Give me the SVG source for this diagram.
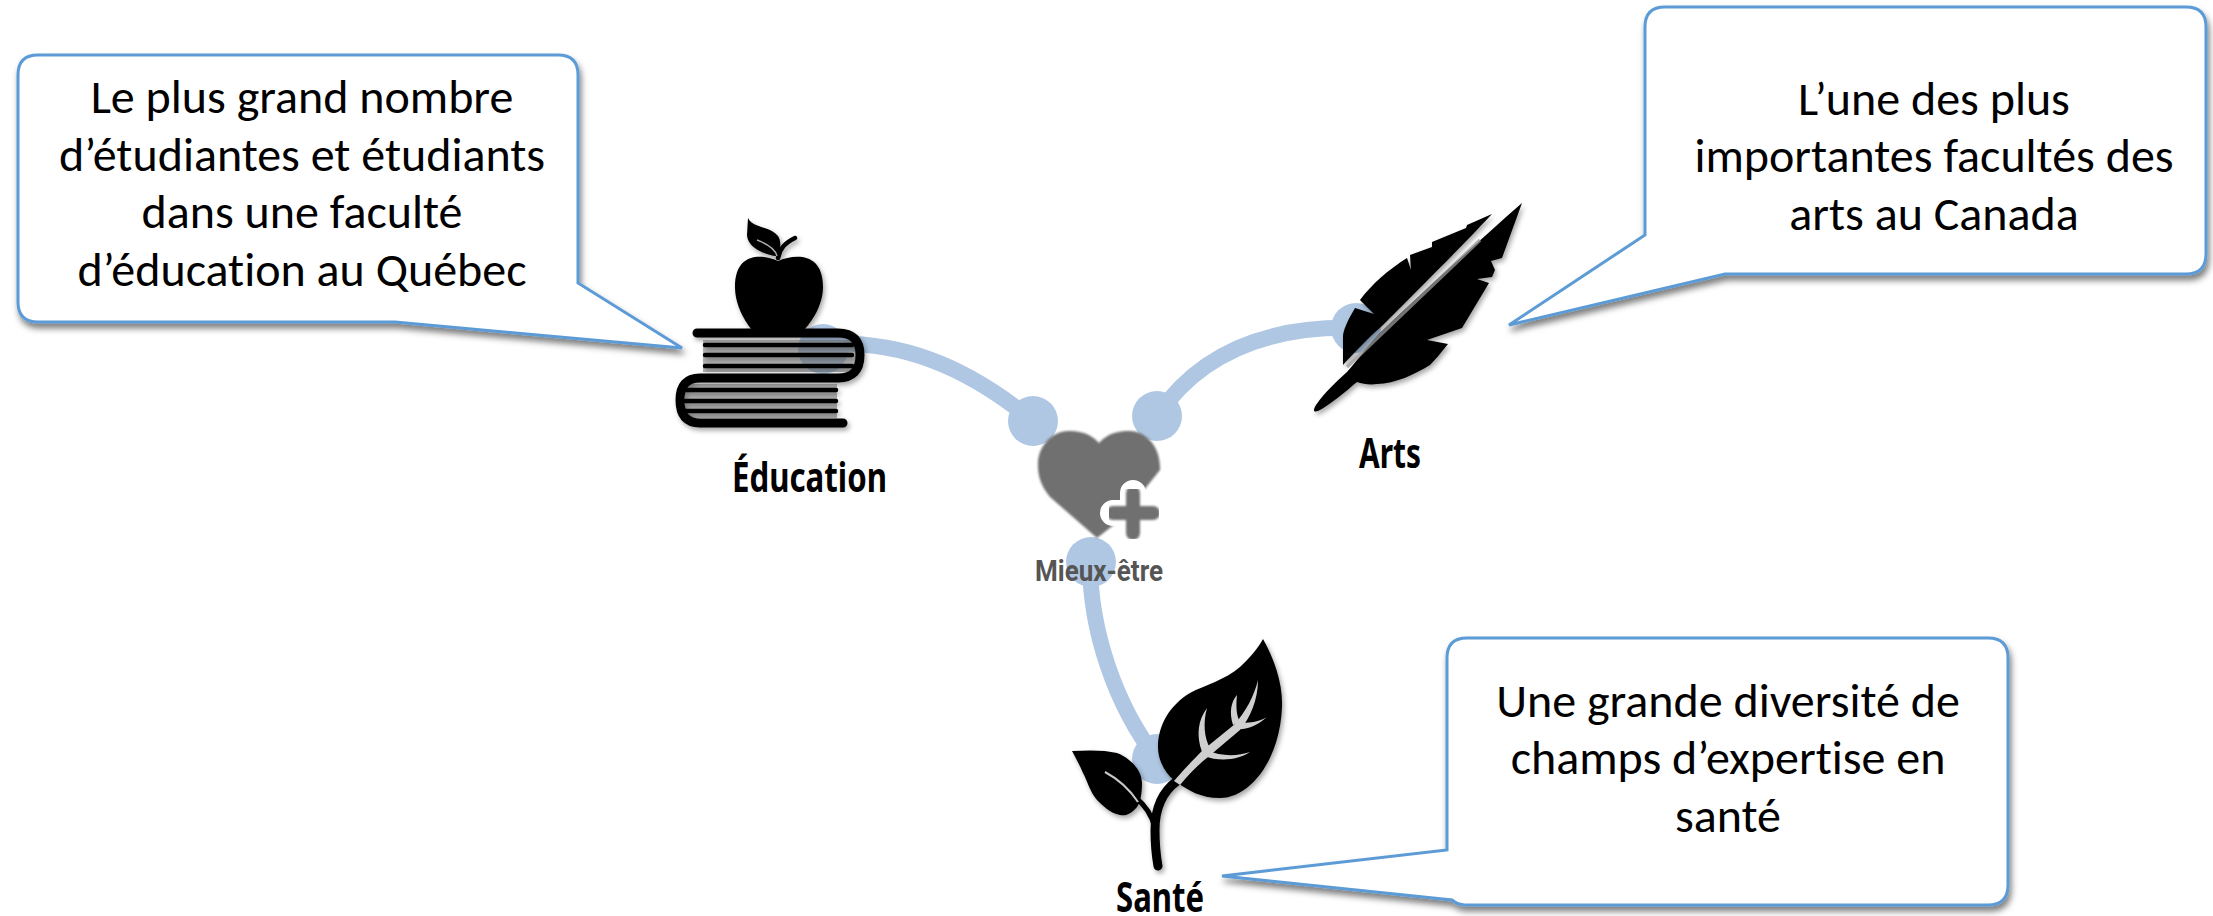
<svg xmlns="http://www.w3.org/2000/svg" width="2213" height="916" viewBox="0 0 2213 916">
<defs>
<filter id="sh" x="-10%" y="-10%" width="125%" height="125%"><feDropShadow dx="2" dy="5" stdDeviation="3" flood-color="#000" flood-opacity=".5"/></filter>
<filter id="ic" x="-10%" y="-10%" width="125%" height="125%"><feDropShadow dx="2" dy="3" stdDeviation="2.5" flood-color="#000" flood-opacity=".35"/></filter>
<filter id="soft" x="-10%" y="-10%" width="125%" height="125%"><feGaussianBlur stdDeviation="1"/></filter>
<filter id="vein" x="-10%" y="-10%" width="125%" height="125%"><feGaussianBlur stdDeviation=".6"/></filter>
</defs>
<style>
text{text-anchor:middle;font-variant-ligatures:none}
.c{fill:#fff;stroke:#5b9bd5;stroke-width:3;filter:url(#sh)}
.t{font-family:Carlito,Lato,"Noto Sans","Liberation Sans",sans-serif;font-size:48px;fill:#000}
.l{font-family:"Noto Sans","Liberation Sans",sans-serif;font-weight:700;font-size:42px;fill:#000}
.w{fill:none;stroke:#afc7e3;stroke-width:16}
.n{fill:#afc7e3}
.bk{fill:none;stroke:#000;stroke-width:9;stroke-linecap:round;stroke-linejoin:round}
.st{fill:none;stroke:#000;stroke-width:4.5;stroke-linecap:round}
.pg{fill:#777;fill-opacity:.55}
.v{fill:#cfcfcf;filter:url(#vein)}
</style>
<g id="connectors">
<path class="w" d="M823 344C900 340 965 365 1033 421"/>
<path class="w" d="M1356 328C1280 326 1205 345 1157 416"/>
<path class="w" d="M1090 562C1090 630 1115 705 1157 759"/>
<circle class="n" cx="823" cy="349" r="25"/>
<circle class="n" cx="1033" cy="421" r="25"/>
<circle class="n" cx="1356" cy="328" r="25"/>
<circle class="n" cx="1157" cy="416" r="25"/>
<circle class="n" cx="1091" cy="562" r="25"/>
<circle class="n" cx="1157" cy="759" r="25"/>
</g>
<g id="callout-education"><path class="c" d="M38 55H558Q578 55 578 75V283L682 348L395 322H38Q18 322 18 302V75Q18 55 38 55Z"/>
<text class="t" x="302" y="113">Le plus grand nombre</text><text class="t" x="302" y="171">d’étudiantes et étudiants</text><text class="t" x="302" y="228">dans une faculté</text><text class="t" x="302" y="286">d’éducation au Québec</text></g>
<g id="callout-arts"><path class="c" d="M1665 7H2186Q2206 7 2206 27V254Q2206 274 2186 274H1725L1509 325L1645 235V27Q1645 7 1665 7Z"/>
<text class="t" x="1934" y="115">L’une des plus</text><text class="t" x="1934" y="172">importantes facultés des</text><text class="t" x="1934" y="230">arts au Canada</text></g>
<g id="callout-sante"><path class="c" d="M1467 638H1988Q2008 638 2008 658V885Q2008 905 1988 905H1465Q1458 905 1452 900L1222 876L1447 850V658Q1447 638 1467 638Z"/>
<text class="t" x="1728" y="717">Une grande diversité de</text><text class="t" x="1728" y="774">champs d’expertise en</text><text class="t" x="1728" y="832">santé</text></g>
<g id="education">
<rect class="pg" x="703" y="340" width="153" height="32"/>
<rect class="pg" x="685" y="384" width="152" height="34"/>
<g filter="url(#ic)">
<path d="M778 261C795 254 823 252 823 287C823 305 812 322 803 331H753C745 322 735 305 735 287C735 252 762 254 778 261Z"/>
<path d="M748 218C752 228 770 226 778 236C782 242 780 250 778 256C770 256 748 250 747 235Z"/>
<path d="M778 258C780 248 785 243 795 238" fill="none" stroke="#000" stroke-width="4.500" stroke-linecap="round"/>
<path class="bk" d="M697 333H838Q860 333 860 355Q860 378 838 378H700Q680 378 680 400Q680 423 700 423H843"/>
<path class="st" d="M705 345H852M705 355H852M705 366H852M685 390H836M685 401H836M685 411H836"/>
</g>
<path d="M757 240C765 243 775 248 777 256" fill="none" stroke="#aaa" stroke-width="1.500"/>
<text class="l" x="809.500" y="492" textLength="155" lengthAdjust="spacingAndGlyphs">Éducation</text>
</g>
<g id="arts">
<g filter="url(#ic)">
<path d="M1522 203L1502 258L1491 261L1495 270L1492 277L1477 279L1489 283L1462 328L1427 340L1448 344C1440 354 1435 360 1430 365C1415 374 1395 384 1377 384C1370 385 1363 384 1357 382C1345 392 1330 405 1318 411C1312 413 1314 408 1316 405C1325 392 1336 382 1347 372C1358 360 1370 342 1382 331C1430 285 1480 240 1522 203Z"/>
<path d="M1492 214L1467 225L1466 228L1432 242L1432 247L1410 255L1411 270L1407 258C1388 270 1372 284 1360 300L1374 314L1355 308C1348 320 1343 330 1343 337L1343 365C1354 353 1368 338 1383 325C1423 285 1463 245 1492 214Z"/>
</g>
<path d="M1347 367L1480 240" fill="none" stroke="#9a9a9a" stroke-opacity=".75" stroke-width="3.500"/>
<text class="l" x="1390" y="468" textLength="62" lengthAdjust="spacingAndGlyphs">Arts</text>
</g>
<g id="sante">
<g filter="url(#ic)">
<path d="M1263 639C1275 660 1283 685 1282 707C1280 760 1250 798 1220 798C1200 798 1188 790 1178 783C1165 775 1158 760 1158 747C1158 725 1170 705 1190 693C1205 685 1225 680 1240 667C1250 658 1258 648 1263 639Z"/>
<path d="M1072 751C1090 750 1105 750 1117 753C1130 758 1142 770 1142 783C1142 795 1140 803 1137 807C1130 815 1125 816 1120 815C1110 813 1103 806 1097 800C1090 792 1087 780 1083 773C1080 766 1076 758 1072 751Z"/>
<path d="M1177 781C1162 792 1155 810 1155 830C1155 845 1156 855 1158 866" fill="none" stroke="#000" stroke-width="9" stroke-linecap="round"/>
<path d="M1135 797C1145 805 1152 815 1155 828" fill="none" stroke="#000" stroke-width="5"/>
</g>
<path class="v" d="M1174 781C1185 768 1195 758 1203 750L1235 724C1245 712 1254 697 1258 680C1258 700 1250 718 1240 730L1208 757C1198 765 1188 775 1180 785Z"/>
<path class="v" d="M1233 725C1229 712 1231 702 1237 695C1236 705 1236 715 1240 722ZM1238 722C1250 724 1260 721 1267 717C1258 725 1248 730 1236 729ZM1202 752C1196 735 1198 720 1207 708C1203 722 1204 738 1210 748ZM1206 750C1222 757 1238 756 1250 752C1238 760 1220 762 1204 756Z"/>
<path d="M1105 772C1120 780 1130 790 1138 802" fill="none" stroke="#c8c8c8" stroke-width="2"/>
<text class="l" x="1160" y="912" textLength="88" lengthAdjust="spacingAndGlyphs">Santé</text>
</g>
<g id="mieux-etre">
<path filter="url(#soft)" fill="#707070" d="M1099 443C1090 433 1080 431 1068 431C1052 431 1037 447 1038 466C1038 478 1042 487 1050 497L1097 538L1120 520L1160 470C1161 447 1146 431 1130 431C1118 431 1108 433 1099 443Z"/>
<path fill="none" stroke="#fff" stroke-width="26" stroke-linecap="round" d="M1133 493V533M1113 513H1153"/>
<path filter="url(#soft)" fill="none" stroke="#707070" stroke-width="14" stroke-linecap="round" d="M1133 493V533M1113 513H1153"/>
<text x="1099" y="581" textLength="128" lengthAdjust="spacingAndGlyphs" style="font-family:Roboto,'Noto Sans',sans-serif;font-weight:700;font-size:30px;fill:#555">Mieux-être</text>
</g>
</svg>
